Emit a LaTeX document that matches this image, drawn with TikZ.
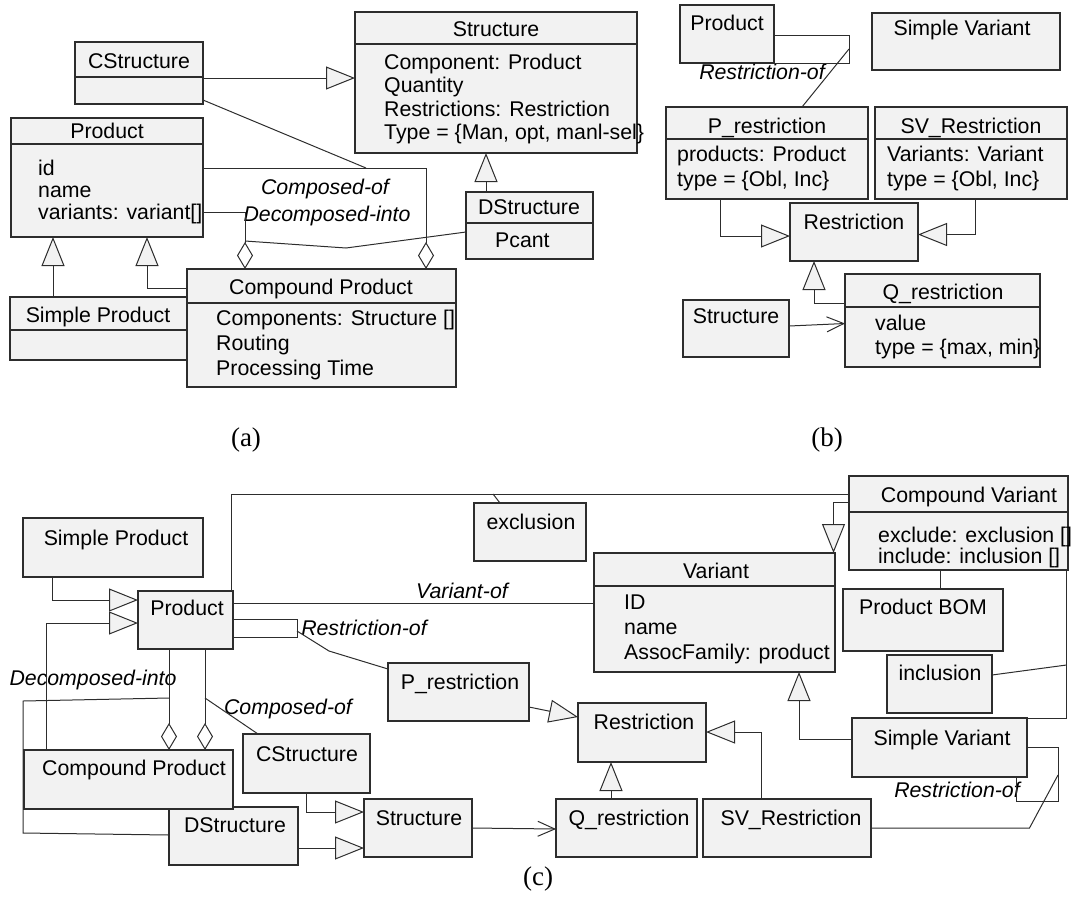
\documentclass[tikz,border=0pt]{standalone}
\usepackage{fontspec}
\setmainfont{Liberation Sans}
\newfontfamily\capfont{Liberation Serif}
\usetikzlibrary{arrows.meta}
\definecolor{boxfill}{RGB}{242,242,242}
\definecolor{edge}{RGB}{45,45,45}
\newcommand\fz{\fontsize{21.3}{25}\selectfont}
\newcommand\ubox[5]{\node[box, minimum width={(#4-#2)*1pt}, minimum height={(#5-#3)*1pt}] (#1) at (#2,#3) {};}
\newcommand\udiv[2]{\draw[divl] (#1.west |- 0,#2) -- (#1.east |- 0,#2);}
\begin{document}
\begin{tikzpicture}[x=1pt,y=-1pt,
  box/.style={draw=edge, fill=boxfill, line width=1.3pt, inner sep=0pt, outer sep=0pt, anchor=north west},
  divl/.style={draw=edge, line width=1.3pt},
  hdr/.style={inner sep=0pt, anchor=base, font=\fz},
  attr/.style={inner sep=0pt, anchor=base west, font=\fz},
  rl/.style={inner sep=0pt, anchor=base, font=\fz\itshape},
  figcap/.style={inner sep=0pt, anchor=center, font=\capfont\fontsize{27}{30}\selectfont},
  conn/.style={draw=edge, line width=1pt, line join=miter},
  gen/.style={conn, -{Triangle[length=29pt,width=23pt,fill=boxfill]}},
  agg/.style={conn, -{Diamond[length=27pt,width=16pt,fill=white]}},
  nav/.style={conn, -{Straight Barb[length=17pt,width=15pt]}}]
\useasboundingbox (0,0) rectangle (1071,898);

% ================= (a) =================
\ubox{aCS}{75}{42}{203}{104} \udiv{aCS}{77}
\ubox{aST}{355}{12}{637}{153} \udiv{aST}{44}
\ubox{aPR}{11}{118}{203}{237} \udiv{aPR}{144}
\ubox{aDS}{466}{192}{593}{259} \udiv{aDS}{223}
\ubox{aSP}{10}{297}{187}{360} \udiv{aSP}{330}
\ubox{aCP}{187}{269}{456}{387} \udiv{aCP}{303}

\node[hdr] (taCS) at (139,68) {CStructure};
\node[hdr] (taST) at (496,36) {Structure};
\node[attr] (taST1) at (384,69) {Component: Product};
\node[attr] (taST2) at (384,92.5) {Quantity};
\node[attr] (taST3) at (384,116) {Restrictions: Restriction};
\node[attr] (taST4) at (384,139.5) {Type = \{Man, opt, manl-sel\}};
\node[hdr] (taPR) at (107,138) {Product};
\node[attr] (taPR1) at (38,175) {id};
\node[attr] (taPR2) at (38,197) {name};
\node[attr] (taPR3) at (38,219) {variants: variant[]};
\node[hdr] (taDS) at (529,214) {DStructure};
\node[attr] (taDS1) at (495,247) {Pcant};
\node[hdr] (taSP) at (98,322) {Simple Product};
\node[hdr] (taCP) at (321,294) {Compound Product};
\node[attr] (taCP1) at (216,325.5) {Components: Structure []};
\node[attr] (taCP2) at (216,350.5) {Routing};
\node[attr] (taCP3) at (216,375.5) {Processing Time};
\node[rl] (laCO) at (325,194) {Composed-of};
\node[rl] (laDI) at (327,221) {Decomposed-into};
\node[figcap] (capa) at (246,440) {(a)};

\draw[gen] (aCS.east |- 0,78) -- (aST.west |- 0,78);
\draw[gen] (486,0 |- aDS.north) -- (486,0 |- aST.south);
\draw[gen] (53,0 |- aSP.north) -- (53,0 |- aPR.south);
\draw[gen] (aCP.west |- 0,288) -- (147,288) -- (147,0 |- aPR.south);
\draw[agg] (aPR.east |- 0,168) -- (426,168) -- (426,0 |- aCP.north);
\coordinate (ja1) at (366,168);
\draw[conn] (aCS.east |- 0,100) -- (ja1);
\draw[agg] (aPR.east |- 0,212) -- (245,212) -- (245,0 |- aCP.north);
\coordinate (ja2) at (245,241);
\draw[conn] (aDS.west |- 0,232) -- (346,248) -- (ja2);

% ================= (b) =================
\ubox{bPR}{680}{5}{774}{63}
\ubox{bSV}{872}{13}{1060}{70}
\ubox{bPRs}{666}{107}{868}{199} \udiv{bPRs}{139}
\ubox{bSVR}{875}{107}{1067}{199} \udiv{bSVR}{139}
\ubox{bRS}{790}{203}{918}{261}
\ubox{bQR}{845}{274}{1040}{367} \udiv{bQR}{307}
\ubox{bST}{683}{300}{789}{357}

\node[hdr] (tbPR) at (727,30) {Product};
\node[hdr] (tbSV) at (962,35) {Simple Variant};
\node[hdr] (tbPRs) at (767,133) {P\_restriction};
\node[attr] (tbPRs1) at (677,161) {products: Product};
\node[attr] (tbPRs2) at (677,186) {type = \{Obl, Inc\}};
\node[hdr] (tbSVR) at (971,133) {SV\_Restriction};
\node[attr] (tbSVR1) at (887,161) {Variants: Variant};
\node[attr] (tbSVR2) at (887,186) {type = \{Obl, Inc\}};
\node[hdr] (tbRS) at (854,229) {Restriction};
\node[hdr] (tbQR) at (943,299) {Q\_restriction};
\node[attr] (tbQR1) at (875,330.5) {value};
\node[attr] (tbQR2) at (875,354) {type = \{max, min\}};
\node[hdr] (tbST) at (736,323) {Structure};
\node[rl] (lbRO) at (762,79) {Restriction-of};
\node[figcap] (capb) at (827,440) {(b)};

\draw[conn] (bPR.east |- 0,35) -- (849,35) -- (849,63) -- (bPR.south east);
\coordinate (jb1) at (849,49);
\draw[conn] (jb1) -- (802,0 |- bPRs.north);
\draw[gen] (720,0 |- bPRs.south) -- (720,236) -- (bRS.west |- 0,236);
\draw[gen] (975,0 |- bSVR.south) -- (975,234.5) -- (bRS.east |- 0,234.5);
\draw[gen] (bQR.west |- 0,303.5) -- (814,303.5) -- (814,0 |- bRS.south);
\draw[nav] (bST.east |- 0,326) -- (bQR.west |- 0,323.5);

% ================= (c) =================
\ubox{cSP}{23}{518}{203}{577}
\ubox{cPR}{138}{591}{233}{649}
\ubox{cEX}{474}{503}{586}{561}
\ubox{cCV}{849}{476}{1068}{570} \udiv{cCV}{512}
\ubox{cVA}{594}{553}{835}{672} \udiv{cVA}{586}
\ubox{cPB}{843}{589}{1003}{651}
\ubox{cIN}{887}{655}{992}{713}
\ubox{cSV}{852}{718}{1027}{777}
\ubox{cPRs}{388}{663}{529}{721}
\ubox{cRS}{578}{703}{706}{762}
\ubox{cCS}{243}{734}{370}{793}
\ubox{cDS}{169}{807}{298}{865}
\ubox{cCP}{24}{750}{233}{809}
\ubox{cST}{364}{799}{472}{857}
\ubox{cQR}{556}{799}{697}{857}
\ubox{cSVR}{703}{799}{871}{857}

\node[hdr] (tcSP) at (116,545) {Simple Product};
\node[hdr] (tcPR) at (187,615) {Product};
\node[hdr] (tcEX) at (531,529) {exclusion};
\node[hdr] (tcCV) at (969,502) {Compound Variant};
\node[attr] (tcCV1) at (878,542) {exclude: exclusion []};
\node[attr] (tcCV2) at (878,563) {include: inclusion []};
\node[hdr] (tcVA) at (716,578) {Variant};
\node[attr] (tcVA1) at (624,609) {ID};
\node[attr] (tcVA2) at (624,634) {name};
\node[attr] (tcVA3) at (624,659) {AssocFamily: product};
\node[hdr] (tcPB) at (923,614) {Product BOM};
\node[hdr] (tcIN) at (940,680) {inclusion};
\node[hdr] (tcSV) at (942,745) {Simple Variant};
\node[hdr] (tcPRs) at (460,689) {P\_restriction};
\node[hdr] (tcRS) at (644,729) {Restriction};
\node[hdr] (tcCS) at (307,761) {CStructure};
\node[hdr] (tcDS) at (235,832) {DStructure};
\node[hdr] (tcCP) at (134,775) {Compound Product};
\node[hdr] (tcST) at (419,825) {Structure};
\node[hdr] (tcQR) at (629,825) {Q\_restriction};
\node[hdr] (tcSVR) at (791,825) {SV\_Restriction};
\node[rl] (lcVO) at (462,598) {Variant-of};
\node[rl] (lcRO1) at (364,635) {Restriction-of};
\node[rl] (lcDI) at (93,685) {Decomposed-into};
\node[rl] (lcCO) at (288,714) {Composed-of};
\node[rl] (lcRO2) at (957,797) {Restriction-of};
\node[figcap] (capc) at (538,879) {(c)};

\draw[gen] (52,0 |- cSP.south) -- (52,600) -- (cPR.west |- 0,600);
\draw[gen] (46.5,0 |- cCP.north) -- (46.5,623) -- (cPR.west |- 0,623);
\draw[conn] (231,0 |- cPR.north) -- (231,494) -- (cCV.west |- 0,494);
\coordinate (jc1) at (493,494);
\draw[conn] (500,0 |- cEX.north) -- (jc1);
\draw[conn] (cPR.east |- 0,603) -- (cVA.west |- 0,603);
\draw[conn] (cPR.east |- 0,619) -- (297,619) -- (297,637) -- (cPR.east |- 0,637);
\coordinate (jc2) at (297,631);
\draw[conn] (jc2) -- (329,651) -- (cPRs.west |- 0,669);
\draw[agg] (169,0 |- cPR.south) -- (169,0 |- cCP.north);
\draw[agg] (205,0 |- cPR.south) -- (205,0 |- cCP.north);
\coordinate (jc3) at (205,698);
\draw[conn] (jc3) -- (258,0 |- cCS.north);
\coordinate (jc4) at (169,698);
\draw[conn] (cDS.west |- 0,835) -- (23,833) -- (23,701) -- (jc4);
\draw[gen] (306.5,0 |- cCS.south) -- (306.5,812) -- (cST.west |- 0,812);
\draw[gen] (cDS.east |- 0,848) -- (cST.west |- 0,848);
\draw[nav] (cST.east |- 0,828) -- (cQR.west |- 0,829);
\draw[gen] (611,0 |- cQR.north) -- (611,0 |- cRS.south);
\draw[gen] (761,0 |- cSVR.north) -- (761,732) -- (cRS.east |- 0,732);
\draw[gen] (cPRs.east |- 0,707) -- (cRS.west |- 0,717);
\draw[gen] (cCV.west |- 0,502) -- (833.5,502) -- (833.5,0 |- cVA.north);
\draw[conn] (940,0 |- cCV.south) -- (940,0 |- cPB.north);
\draw[conn] (1066.5,0 |- cCV.south) -- (1066.5,718) -- (cSV.north east);
\coordinate (jc5) at (1066.5,665);
\draw[conn] (cIN.east |- 0,675) -- (jc5);
\draw[gen] (cSV.west |- 0,739) -- (799,739) -- (799,0 |- cVA.south);
\draw[conn] (cSV.east |- 0,747) -- (1058,747) -- (1058,801) -- (1016.5,801) -- (1016.5,0 |- cSV.south);
\coordinate (jc6) at (1058,775);
\draw[conn] (jc6) -- (1029.5,828) -- (cSVR.east |- 0,828);
\end{tikzpicture}
\end{document}
